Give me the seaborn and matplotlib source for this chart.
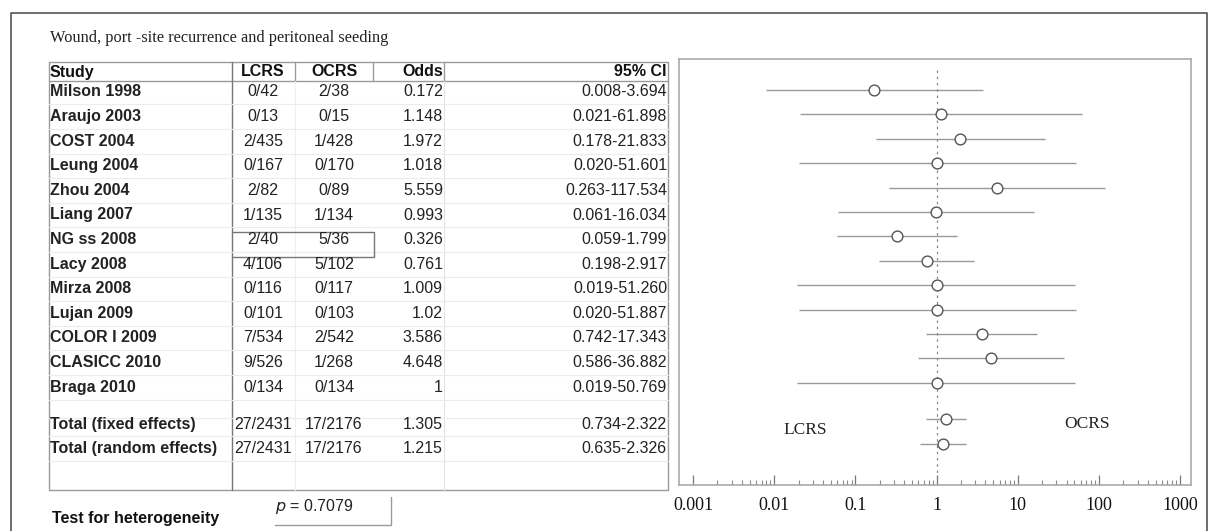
import seaborn as sns
import pandas as pd
import matplotlib.pyplot as plt
from matplotlib.ticker import FixedLocator, NullFormatter

studies = ['Milson 1998', 'Araujo 2003', 'COST 2004', 'Leung 2004', 'Zhou 2004',
           'Liang 2007', 'NG ss 2008', 'Lacy 2008', 'Mirza 2008', 'Lujan 2009',
           'COLOR I 2009', 'CLASICC 2010', 'Braga 2010',
           'Total (fixed effects)', 'Total (random effects)']
lcrs = ['0/42', '0/13', '2/435', '0/167', '2/82', '1/135', '2/40', '4/106', '0/116',
        '0/101', '7/534', '9/526', '0/134', '27/2431', '27/2431']
ocrs = ['2/38', '0/15', '1/428', '0/170', '0/89', '1/134', '5/36', '5/102', '0/117',
        '0/103', '2/542', '1/268', '0/134', '17/2176', '17/2176']
odds = ['0.172', '1.148', '1.972', '1.018', '5.559', '0.993', '0.326', '0.761', '1.009',
        '1.02', '3.586', '4.648', '1', '1.305', '1.215']
ci = ['0.008-3.694', '0.021-61.898', '0.178-21.833', '0.020-51.601', '0.263-117.534',
      '0.061-16.034', '0.059-1.799', '0.198-2.917', '0.019-51.260', '0.020-51.887',
      '0.742-17.343', '0.586-36.882', '0.019-50.769', '0.734-2.322', '0.635-2.326']
rows = [0, 1, 2, 3, 4, 5, 6, 7, 8, 9, 10, 11, 12, 13.5, 14.5]
tick_labels = ['0.001', '0.01', '0.1', '1', '10', '100', '1000']

df = pd.DataFrame({
    'study': studies, 'row': rows,
    'odds': [float(o) for o in odds],
    'lo': [float(c.split('-')[0]) for c in ci],
    'hi': [float(c.split('-')[1]) for c in ci],
})

sns.set_style('white')
plt.rcParams['font.family'] = ['Liberation Sans', 'DejaVu Sans']
W, H = 1218, 531
fig = plt.figure(figsize=(W / 100, H / 100), dpi=100)

# pixel-space overlay for the table and frame
bg = fig.add_axes([0, 0, 1, 1])
bg.set_xlim(0, W)
bg.set_ylim(H, 0)
bg.axis('off')

grey = '#9a9a9a'
bg.plot([11, 11, 1207, 1207], [540, 13, 13, 540], color='#555555', lw=1.2)
bg.text(50, 38, 'Wound, port -site recurrence and peritoneal seeding',
        family='Liberation Serif', fontsize=11.8, va='center', color='#222222')

# table grid
tx0, tx1, ty0, ty1, hy = 49, 668, 62, 490, 81
bg.plot([tx0, tx1, tx1, tx0, tx0], [ty0, ty0, ty1, ty1, ty0], color=grey, lw=1)
bg.plot([tx0, tx1], [hy, hy], color=grey, lw=1)
for x in [295, 373, 444]:
    bg.plot([x, x], [ty0, hy], color=grey, lw=1)
bg.plot([232, 232], [ty0, ty1], color='#777777', lw=1)
bg.plot([444, 444], [hy, ty1], color='#e2e2e2', lw=0.8)
bg.plot([295, 295], [hy, ty1], color='#eeeeee', lw=0.8)


def ypx(r):
    return 92 + 24.6 * r


for r in list(range(13)) + [12.75, 13.5, 14.5]:
    bg.plot([tx0, tx1], [ypx(r) + 12.3] * 2, color='#ececec', lw=0.8)
bg.plot([232, 374, 374, 232], [232, 232, 257, 257], color='#777777', lw=1)

hdr = dict(fontsize=11.5, fontweight='bold', va='center', color='#111111')
bg.text(50, 72, 'Study', ha='left', **hdr)
bg.text(263, 72, 'LCRS', ha='center', **hdr)
bg.text(334, 72, 'OCRS', ha='center', **hdr)
bg.text(443, 72, 'Odds', ha='right', **hdr)
bg.text(667, 72, '95% CI', ha='right', **hdr)

cell = dict(fontsize=11.5, va='center', color='#222222')
for s, a, b, o, c, r in zip(studies, lcrs, ocrs, odds, ci, rows):
    y = ypx(r)
    bg.text(50, y, s, ha='left', fontweight='bold', **cell)
    bg.text(263, y, a, ha='center', **cell)
    bg.text(334, y, b, ha='center', **cell)
    bg.text(443, y, o, ha='right', **cell)
    bg.text(667, y, c, ha='right', **cell)

bg.text(52, 518, 'Test for heterogeneity', fontsize=11.5, fontweight='bold',
        va='center', color='#111111')
bg.text(275, 507, '$p$ = 0.7079', fontsize=11.5, va='center', color='#222222')
bg.plot([275, 391, 391], [525, 525, 497], color=grey, lw=1)

# side labels inside the forest panel
bg.text(805, 430, 'LCRS', family='Liberation Serif', fontsize=12.5,
        ha='center', va='center', color='#222222', zorder=5)
bg.text(1087, 424, 'OCRS', family='Liberation Serif', fontsize=12.5,
        ha='center', va='center', color='#222222', zorder=5)

# forest plot panel
px0, px1, py0, py1 = 679, 1191, 59, 485
ax = fig.add_axes([px0 / W, 1 - py1 / H, (px1 - px0) / W, (py1 - py0) / H])
ax.set_zorder(-1)
ax.set_xscale('log')
ax.set_xlim(10 ** -3.172, 10 ** 3.135)
ax.set_ylim((py1 - 90) / 24.4, (py0 - 90) / 24.4)

ax.hlines(df['row'], df['lo'], df['hi'], color='#999999', lw=1)
ax.axvline(1, ymin=0, ymax=(py1 - 68) / (py1 - py0), color='#888888',
           lw=0.9, ls=(0, (2, 3)))
sns.scatterplot(data=df, x='odds', y='row', ax=ax, s=60, marker='o',
                facecolor='white', edgecolor='#555555', linewidth=1, zorder=3)

for side in ['top', 'right', 'left', 'bottom']:
    ax.spines[side].set_color('#aaaaaa')
    ax.spines[side].set_linewidth(1.2)
ax.set_yticks([])
ax.set_xlabel('')
ax.set_ylabel('')
majors = [float(t) for t in tick_labels]
minors = [m * k for m in majors[:-1] for k in range(2, 10)]
ax.xaxis.set_minor_locator(FixedLocator(minors))
ax.xaxis.set_minor_formatter(NullFormatter())
ax.set_xticks(majors)
ax.set_xticklabels(tick_labels, family='Liberation Serif', fontsize=13,
                   color='#111111')
ax.tick_params(axis='x', which='major', direction='in', length=7, width=0.9,
               color='#777777', pad=9, bottom=True)
ax.tick_params(axis='x', which='minor', direction='in', length=3.5, width=0.8,
               color='#888888', bottom=True)

fig.savefig('out.png', dpi=100)
